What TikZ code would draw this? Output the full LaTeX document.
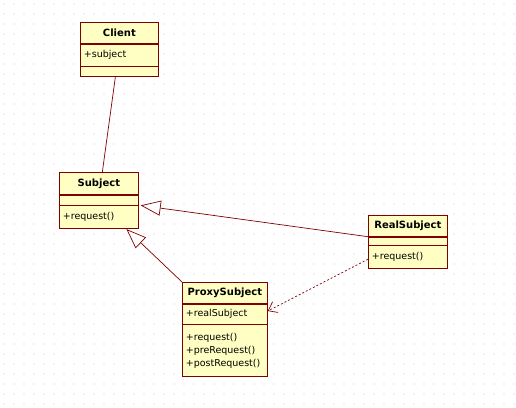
\documentclass[tikz,border=0pt]{standalone}
\usepackage{fontspec}
\setmainfont{DejaVu Sans}
\usetikzlibrary{positioning,arrows.meta}
\definecolor{umlBorder}{HTML}{800000}
\definecolor{umlFill}{HTML}{FFFFC4}
\definecolor{gridDot}{HTML}{E6E6E6}

\begin{document}
\begin{tikzpicture}[
    x=1pt, y=-1pt,
    part/.style = {
      draw=umlBorder,
      fill=umlFill,
      line width=0.7pt,
      anchor=north west,
      inner sep=0pt,
      font=\fontsize{9.5}{13}\selectfont
    },
    head/.style = {part, font=\fontsize{10}{13}\selectfont\bfseries, align=center},
    list/.style = {part, align=left, inner xsep=3.5pt},
    link/.style = {draw=umlBorder, line width=0.7pt},
    realize/.style = {link, -{Triangle[length=20pt, width=15pt, fill=white]}},
    depend/.style = {link, dash pattern=on 2pt off 2pt, -{Straight Barb[length=8pt, width=12pt]}}
  ]
\useasboundingbox[fill=white] (0,0) rectangle (516,407);

% dotted canvas
\foreach \gx in {4,14,...,514}
  \foreach \gy in {4,14,...,404}
    \fill[gridDot] (\gx,\gy) circle (0.9pt);

% Client
\node[head, minimum width=78pt, minimum height=21pt] (clienthead) at (80,22) {Client};
\node[list, text width=71pt, minimum height=22pt] (clientattr) at (clienthead.south west) {+subject};
\node[list, text width=71pt, minimum height=10pt] (clientops) at (clientattr.south west) {};

% Subject
\node[head, minimum width=79pt, minimum height=22pt] (subjecthead) at (59,172) {Subject};
\node[list, text width=72pt, minimum height=10pt] (subjectattr) at (subjecthead.south west) {};
\node[list, text width=72pt, minimum height=23pt] (subjectops) at (subjectattr.south west) {+request()};

% RealSubject
\node[head, minimum width=79pt, minimum height=21pt] (realhead) at (368,215) {RealSubject};
\node[list, text width=72pt, minimum height=8pt] (realattr) at (realhead.south west) {};
\node[list, text width=72pt, minimum height=23pt] (realops) at (realattr.south west) {+request()};

% ProxySubject
\node[head, minimum width=85pt, minimum height=21pt] (proxyhead) at (182,282) {ProxySubject};
\node[list, text width=78pt, minimum height=20pt] (proxyattr) at (proxyhead.south west) {+realSubject};
\node[list, text width=78pt, minimum height=52pt] (proxyops) at (proxyattr.south west) {+request()\\+preRequest()\\+postRequest()};

\draw[link] ([xshift=-4pt]clientops.south) -- ([xshift=3.5pt]subjecthead.north);
\draw[realize] (realhead.south west) -- ([xshift=2pt]subjectops.north east);
\draw[realize] (proxyhead.north west) -- ([xshift=27.5pt]subjectops.south);
\draw[depend] ([yshift=-2pt]realops.west) -- ([yshift=3pt]proxyattr.east);
\end{tikzpicture}
\end{document}
